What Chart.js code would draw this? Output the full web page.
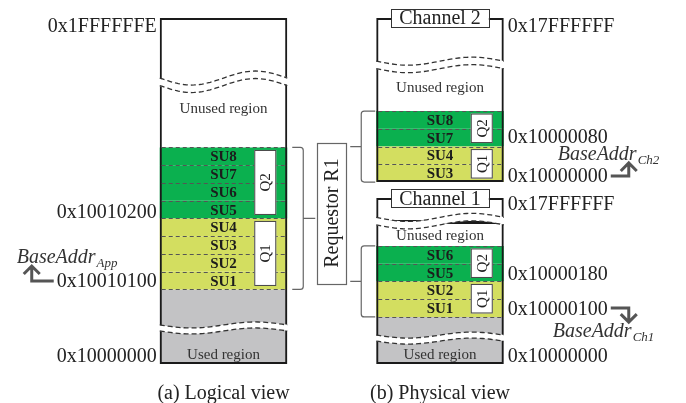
<!DOCTYPE html>
<html>
<head>
<meta charset="utf-8">
<script src="https://cdn.jsdelivr.net/npm/chart.js@4.4.1/dist/chart.umd.min.js"></script>
<style>
  html, body { margin: 0; padding: 0; background: #fff; }
  #wrap { width: 686px; height: 403px; }
</style>
</head>
<body>
<div id="wrap"><canvas id="memChart" width="686" height="403"></canvas></div>
<script>
//********************************************************************************//
//                            Data
//********************************************************************************//
// x categories: the two memory views
var views = ['(a) Logical view', '(b) Physical view'];

// y values are in storage-unit rows above 0x10000000 (one SU = one row)
var suNames = ['SU1', 'SU2', 'SU3', 'SU4', 'SU5', 'SU6', 'SU7', 'SU8'];
var suQueue = ['Q1', 'Q1', 'Q1', 'Q1', 'Q2', 'Q2', 'Q2', 'Q2'];
var suLogical = [4.2, 5.2, 6.2, 7.2, 8.2, 9.2, 10.2, 11.2];
var suPhysical = [2.65, 3.65, 10.25, 11.25, 4.65, 5.65, 12.25, 13.25];
var suSize = 1;

// [logical, physical channel 1]
var usedRegion = [[0, 2.03], [0, 1.46]];
var grayRegion = [[2.03, 4.2], [1.46, 2.65]];

// column pieces: [view, from, to]
var frames = [
    [0, 15.9, 19.5], [0, 2.03, 15.9], [0, 0, 2.03],
    [1, 16.85, 19.5], [1, 10.25, 16.85], [1, 8.0, 9.35], [1, 1.46, 8.0], [1, 0, 1.46]
];
// wavy cuts: [view, at]
var breaks = [[0, 15.9], [0, 2.03], [1, 16.85], [1, 8.05], [1, 1.46]];

var addrLeft = ['0x1FFFFFFE', '0x10010200', '0x10010100', '0x10000000'];
var addrLeftAt = [19.1, 8.62, 4.73, 0.5];
var addrRight = ['0x17FFFFFF', '0x10000080', '0x10000000', '0x17FFFFFF', '0x10000180', '0x10000100', '0x10000000'];
var addrRightAt = [19.1, 12.85, 10.65, 9.07, 5.13, 3.15, 0.5];

var regionText = ['Unused region', 'Used region', 'Unused region', 'Unused region', 'Used region'];
var regionView = [0, 0, 1, 1, 1];
var regionAt = [14.4, 0.56, 15.6, 7.27, 0.56];

var channelText = ['Channel 2', 'Channel 1'];
var channelAt = [19.5, 9.35];

var baseText = 'BaseAddr';
var baseSub = ['App', 'Ch2', 'Ch1'];
var requestorText = 'Requestor R1';

//********************************************************************************//
//                            Styles
//********************************************************************************//
var COLORS = { q1: '#d3de60', q2: '#0bb04f', gray: '#c3c3c5', frame: '#1a1a1a', dash: '#555', text: '#222', soft: '#333', arrow: '#555' };
var SERIF = '"Liberation Serif", "DejaVu Serif", serif';
var WAVE_AMP = [7, 4];   // per view, for cuts in the unused part

//********************************************************************************//
//                            Helpers
//********************************************************************************//
function isBreak(view, v) {
    return breaks.some(function (b) { return b[0] === view && Math.abs(b[1] - v) < 0.001; });
}

function runsOf(ranges) {
    var sorted = ranges.slice().sort(function (a, b) { return a[0] - b[0]; });
    var out = [];
    sorted.forEach(function (r) {
        var last = out[out.length - 1];
        if (last && Math.abs(last[1] - r[0]) < 0.001) { last[1] = r[1]; }
        else { out.push([r[0], r[1]]); }
    });
    return out;
}

function suRanges(view, queue) {
    var res = [];
    suNames.forEach(function (n, i) {
        if (queue && suQueue[i] !== queue) return;
        var from = view === 0 ? suLogical[i] : suPhysical[i];
        res.push([from, from + suSize]);
    });
    return res;
}

function text(ctx, str, x, cy, size, opts) {
    opts = opts || {};
    ctx.font = (opts.style || '') + ' ' + size + 'px ' + SERIF;
    ctx.fillStyle = opts.color || COLORS.text;
    ctx.textAlign = opts.align || 'center';
    ctx.textBaseline = 'alphabetic';
    ctx.fillText(str, x, cy + size * 0.33);
    return ctx.measureText(str).width;
}

function vText(ctx, str, cx, cy, size) {
    ctx.save();
    ctx.translate(cx, cy);
    ctx.rotate(-Math.PI / 2);
    text(ctx, str, 0, 0, size);
    ctx.restore();
}

//********************************************************************************//
//                            Datasets
//********************************************************************************//
var datasets = [];
suNames.forEach(function (name, i) {
    datasets.push({
        label: name,
        data: [[suLogical[i], suLogical[i] + suSize], [suPhysical[i], suPhysical[i] + suSize]],
        backgroundColor: suQueue[i] === 'Q1' ? COLORS.q1 : COLORS.q2,
        borderWidth: 0,
        order: 2
    });
});
datasets.push({ label: 'gray', data: grayRegion, backgroundColor: COLORS.gray, borderWidth: 0, order: 2 });
datasets.push({ label: 'used', data: usedRegion, backgroundColor: COLORS.gray, borderWidth: 0, order: 2 });
var firstFrame = datasets.length;
frames.forEach(function (f) {
    var d = [null, null];
    d[f[0]] = [f[1], f[2]];
    datasets.push({
        label: 'frame',
        data: d,
        backgroundColor: 'rgba(0,0,0,0)',
        borderColor: COLORS.frame,
        borderSkipped: false,
        inflateAmount: 0,
        borderWidth: { top: isBreak(f[0], f[2]) ? 0 : 2, bottom: isBreak(f[0], f[1]) ? 0 : 2, left: 2, right: 2 },
        order: 1
    });
});

//********************************************************************************//
//                            Diagram plugin
//********************************************************************************//
var diagram = {
    id: 'diagram',
    afterDatasetsDraw: function (chart) {
        var ctx = chart.ctx;
        var ys = chart.scales.y;
        var py = function (v) { return ys.getPixelForValue(v); };

        // column bounds from the frame bars
        var cols = views.map(function (v, vi) {
            for (var k = 0; k < frames.length; k++) {
                if (frames[k][0] === vi) {
                    var el = chart.getDatasetMeta(firstFrame + k).data[vi];
                    return { left: el.x - el.width / 2, right: el.x + el.width / 2, cx: el.x };
                }
            }
        });

        ctx.save();

        // dashed separators between units
        var seen = {};
        views.forEach(function (v, vi) {
            suRanges(vi).forEach(function (r) {
                r.forEach(function (val) {
                    var key = vi + ':' + val.toFixed(3);
                    if (seen[key]) return;
                    seen[key] = true;
                    var onFrameEdge = frames.some(function (f) {
                        return f[0] === vi && (f[1] === val || f[2] === val) && !isBreak(vi, val);
                    });
                    if (onFrameEdge) return;
                    var y = Math.round(py(val)) + 0.5;
                    ctx.beginPath();
                    ctx.setLineDash([4, 3]);
                    ctx.strokeStyle = COLORS.dash;
                    ctx.lineWidth = 1;
                    ctx.moveTo(cols[vi].left + 2, y);
                    ctx.lineTo(cols[vi].right - 2, y);
                    ctx.stroke();
                });
            });
        });

        // wavy breaks
        breaks.forEach(function (b) {
            var c = cols[b[0]];
            var cy = py(b[1]);
            var used = Math.abs(usedRegion[b[0]][1] - b[1]) < 0.001;
            var amp = used ? 3 : WAVE_AMP[b[0]], gap = used ? 6 : 7.5;
            var n = 48;
            var curve = function (off, t) { return cy + off + amp * Math.sin(2 * Math.PI * t); };
            var w = c.right - c.left;
            ctx.setLineDash([]);
            ctx.beginPath();
            for (var i = 0; i <= n; i++) {
                ctx.lineTo(c.left - 1.5 + (w + 3) * i / n, curve(-gap / 2, i / n));
            }
            for (var j = n; j >= 0; j--) {
                ctx.lineTo(c.left - 1.5 + (w + 3) * j / n, curve(gap / 2, j / n));
            }
            ctx.closePath();
            ctx.fillStyle = '#fff';
            ctx.fill();
            [-gap / 2, gap / 2].forEach(function (off) {
                ctx.beginPath();
                ctx.setLineDash([5, 3]);
                ctx.strokeStyle = COLORS.soft;
                ctx.lineWidth = 1.3;
                for (var i = 0; i <= n; i++) {
                    ctx.lineTo(c.left + w * i / n, curve(off, i / n));
                }
                ctx.stroke();
            });
        });
        ctx.setLineDash([]);

        // SU labels
        views.forEach(function (v, vi) {
            suNames.forEach(function (n, i) {
                var from = vi === 0 ? suLogical[i] : suPhysical[i];
                text(ctx, n, cols[vi].cx, py(from + suSize / 2), 15, { style: 'bold', color: '#1c1c1c' });
            });
        });

        // queue boxes
        views.forEach(function (v, vi) {
            ['Q1', 'Q2'].forEach(function (q) {
                runsOf(suRanges(vi, q)).forEach(function (r) {
                    var x0 = cols[vi].right - 33, x1 = cols[vi].right - 11;
                    var y0 = py(r[1]) + 2.5, y1 = py(r[0]) - 3.5;
                    ctx.fillStyle = '#fff';
                    ctx.fillRect(x0, y0, x1 - x0, y1 - y0);
                    ctx.strokeStyle = '#444';
                    ctx.lineWidth = 1;
                    ctx.strokeRect(x0 + 0.5, y0 + 0.5, x1 - x0 - 1, y1 - y0 - 1);
                    vText(ctx, q, (x0 + x1) / 2, (y0 + y1) / 2, 15);
                });
            });
        });

        // region labels
        regionText.forEach(function (t, i) {
            text(ctx, t, cols[regionView[i]].cx, py(regionAt[i]), 15, { color: COLORS.soft });
        });

        // channel tags
        channelText.forEach(function (t, i) {
            var c = cols[1], cy = py(channelAt[i]);
            ctx.font = '20px ' + SERIF;
            var w = ctx.measureText(t).width;
            var x0 = c.cx - w / 2 - 8;
            ctx.fillStyle = '#fff';
            ctx.fillRect(x0, cy - 9, w + 16, 18);
            ctx.strokeStyle = COLORS.soft;
            ctx.lineWidth = 1;
            ctx.strokeRect(Math.round(x0) + 0.5, Math.round(cy - 9) + 0.5, Math.round(w + 16), 18);
            text(ctx, t, c.cx, cy, 20);
        });

        // brackets and requestor
        ctx.strokeStyle = '#666';
        ctx.lineWidth = 1.2;
        var leftRun = runsOf(suRanges(0))[0];
        var lc = cols[0];
        var lx0 = lc.right + 5, lx1 = lc.right + 16;
        var lt = py(leftRun[1]), lb = py(leftRun[0]), lm = (lt + lb) / 2;
        ctx.beginPath();
        ctx.moveTo(lx0, lt);
        ctx.arcTo(lx1, lt, lx1, lt + 4, 3);
        ctx.lineTo(lx1, lb - 3);
        ctx.arcTo(lx1, lb, lx0, lb, 3);
        ctx.lineTo(lx0, lb);
        ctx.moveTo(lx1, lm);
        ctx.lineTo(lx1 + 12, lm);
        ctx.stroke();

        var rc = cols[1];
        var rx0 = rc.left - 1, rx1 = rc.left - 15;
        var mids = [];
        runsOf(suRanges(1)).forEach(function (r) {
            var t = py(r[1]), b = py(r[0]), m = (t + b) / 2;
            mids.push(m);
            ctx.beginPath();
            ctx.moveTo(rx0, t);
            ctx.arcTo(rx1, t, rx1, t + 4, 3);
            ctx.lineTo(rx1, b - 3);
            ctx.arcTo(rx1, b, rx0, b, 3);
            ctx.lineTo(rx0, b);
            ctx.moveTo(rx1, m);
            ctx.lineTo(rx1 - 11, m);
            ctx.stroke();
        });
        var bx0 = lx1 + 14, bx1 = rx1 - 15;
        var by0 = Math.min.apply(null, mids) - 4, by1 = Math.max.apply(null, mids) + 2;
        ctx.fillStyle = '#fff';
        ctx.fillRect(bx0, by0, bx1 - bx0, by1 - by0);
        ctx.strokeRect(Math.round(bx0) + 0.5, Math.round(by0) + 0.5, Math.round(bx1 - bx0), Math.round(by1 - by0));
        vText(ctx, requestorText, (bx0 + bx1) / 2, (by0 + by1) / 2, 20);

        // address labels
        var leftBox = addrLeft.map(function (t, i) {
            var y = py(addrLeftAt[i]);
            var w = text(ctx, t, lc.left - 3, y, 20, { align: 'right' });
            return { left: lc.left - 3 - w, y: y };
        });
        var rightBox = addrRight.map(function (t, i) {
            var y = py(addrRightAt[i]);
            var w = text(ctx, t, rc.right + 4, y, 20, { align: 'left' });
            return { left: rc.right + 4, right: rc.right + 4 + w, y: y };
        });

        // base address labels
        var base = function (sub, x, baseline) {
            ctx.font = 'italic 20px ' + SERIF;
            ctx.fillStyle = COLORS.soft;
            ctx.textAlign = 'left';
            ctx.textBaseline = 'alphabetic';
            ctx.fillText(baseText, x, baseline);
            var w = ctx.measureText(baseText).width;
            ctx.font = 'italic 13px ' + SERIF;
            ctx.fillText(sub, x + w + 1, baseline + 4);
        };
        var app = leftBox[2], ch2 = rightBox[2], ch1 = rightBox[5];
        base(baseSub[0], app.left - 40, app.y - 17);
        base(baseSub[1], ch2.left + 50, ch2.y - 15);
        base(baseSub[2], ch1.left + 45, ch1.y + 29);

        // elbow arrows
        ctx.strokeStyle = COLORS.arrow;
        ctx.lineWidth = 3;
        ctx.lineJoin = 'miter';
        var elbow = function (xs, xe, y, yTip) {
            var dir = yTip < y ? 1 : -1;
            ctx.beginPath();
            ctx.moveTo(xs, y);
            ctx.lineTo(xe, y);
            ctx.lineTo(xe, yTip);
            ctx.moveTo(xe - 8, yTip + dir * 8);
            ctx.lineTo(xe, yTip);
            ctx.lineTo(xe + 8, yTip + dir * 8);
            ctx.stroke();
        };
        elbow(app.left - 3, app.left - 25, app.y + 1, app.y - 14);
        elbow(ch2.right + 3, ch2.right + 21, ch2.y + 1, ch2.y - 12);
        elbow(ch1.right + 3, ch1.right + 21, ch1.y, ch1.y + 14);

        // view titles
        views.forEach(function (v, vi) {
            text(ctx, v, cols[vi].cx, py(0) + 28, 20);
        });

        ctx.restore();
    }
};

//********************************************************************************//
//                            Chart
//********************************************************************************//
var MemoryMap = function () {
    var chart;
    var initChart = function () {
        chart = new Chart(document.getElementById('memChart'), {
            type: 'bar',
            data: { labels: views, datasets: datasets },
            options: {
                responsive: false,
                animation: false,
                events: [],
                layout: { padding: { left: 115.25, right: 137.75, top: 17.875, bottom: 39 } },
                datasets: { bar: { grouped: false, categoryPercentage: 0.589, barPercentage: 1 } },
                scales: {
                    x: { display: false },
                    y: { display: false, min: 0, max: 19.5 }
                },
                plugins: { legend: { display: false }, tooltip: { enabled: false } }
            },
            plugins: [diagram]
        });
    };
    return { init: function () { initChart(); } };
}();

window.addEventListener('load', function () {
    MemoryMap.init();
});
</script>
</body>
</html>
